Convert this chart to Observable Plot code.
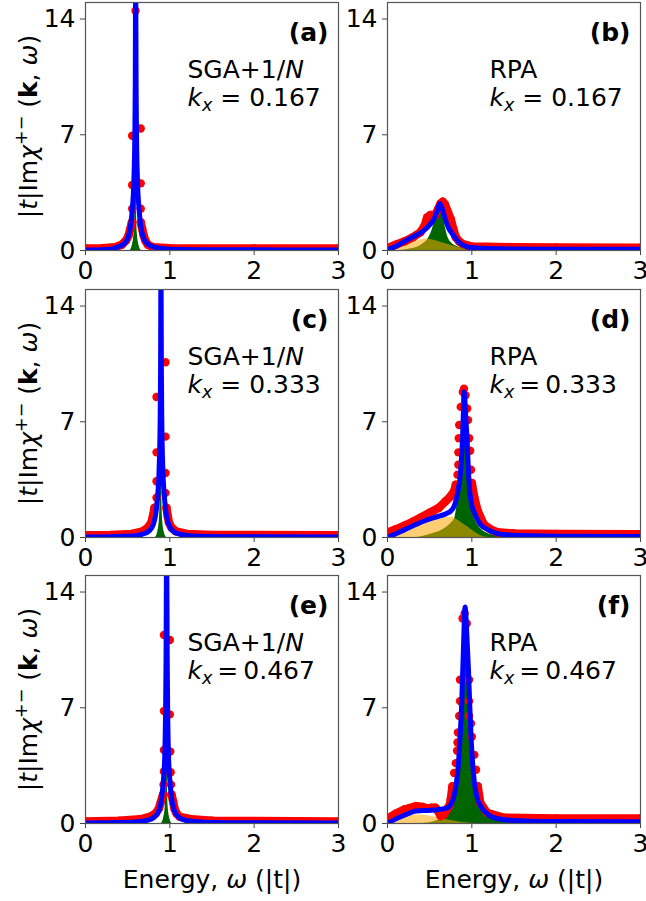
<!DOCTYPE html>
<html><head><meta charset="utf-8">
<script src="https://cdn.jsdelivr.net/npm/d3@7"></script>
<script src="https://cdn.jsdelivr.net/npm/@observablehq/plot@0.6"></script>
<style>
body{margin:0;background:#fff;}
#fig{position:relative;width:646px;height:901px;background:#fff;font-family:"DejaVu Sans";overflow:hidden;}
.cell{position:absolute;}
.cell svg{overflow:visible;}
g[aria-label="x-axis tick"], g[aria-label="y-axis tick"]{stroke:#444;}
</style></head><body><div id="fig"></div>
<script>
// ---------- data (omega, |t| Im chi) ----------
const xTicks = [0, 1, 2, 3];
const yTicks = [0, 7, 14];
const panelLabels = ["(a)", "(b)", "(c)", "(d)", "(e)", "(f)"];
const methods = ["SGA+1/N", "RPA", "SGA+1/N", "RPA", "SGA+1/N", "RPA"];
const kxValues = ["0.167", "0.167", "0.333", "0.333", "0.467", "0.467"];

// (a) SGA+1/N, kx = 0.167
const aBlue = [[0,0.03],[0.2,0.05],[0.3,0.08],[0.375,0.2],[0.455,0.4],[0.505,0.8],[0.535,1.5],[0.555,2.5],[0.572,4],[0.585,7],[0.59,10],[0.595,17],[0.6,10],[0.605,7],[0.618,4],[0.635,2.5],[0.655,1.5],[0.685,0.8],[0.735,0.4],[0.815,0.2],[1.0,0.08],[1.5,0.05],[3,0.03]];
const aGreen = [[0.53,0],[0.555,0.3],[0.575,1],[0.585,2.5],[0.59,5],[0.595,10],[0.6,5],[0.605,2.5],[0.615,1],[0.635,0.3],[0.66,0]];
const aRedL = [[0,0.12],[0.2,0.14],[0.35,0.2],[0.43,0.35],[0.48,0.6],[0.51,0.9],[0.53,1.3],[0.55,1.71]];
const aRedR = [[0.655,1.71],[0.672,1.3],[0.69,0.9],[0.71,0.6],[0.74,0.35],[0.8,0.2],[1.0,0.14],[2,0.12],[3,0.12]];
const aRedPeak = [[0.553,2.53],[0.553,3.96],[0.553,6.94],[0.593,14.5],[0.655,7.38],[0.655,4.06],[0.655,2.53]];

// (b) RPA, kx = 0.167
const bBlue = [[0,0.04],[0.1,0.25],[0.24,0.66],[0.35,0.95],[0.43,1.2],[0.5,1.55],[0.55,1.9],[0.59,2.4],[0.62,2.85],[0.65,2.5],[0.69,1.8],[0.73,1.3],[0.77,1.0],[0.82,0.65],[0.87,0.4],[0.95,0.22],[1.03,0.16],[1.3,0.1],[2,0.08],[3,0.07]];
const bGreen = [[0.15,0],[0.25,0.08],[0.35,0.2],[0.42,0.4],[0.48,0.7],[0.52,1.1],[0.55,1.6],[0.58,2.2],[0.61,2.65],[0.63,2.6],[0.66,2.0],[0.69,1.3],[0.72,0.75],[0.76,0.45],[0.82,0.25],[0.9,0.1],[1.0,0.03],[1.1,0]];
const bOrange = [[0,0],[0.1,0.12],[0.2,0.3],[0.3,0.5],[0.4,0.65],[0.48,0.7],[0.55,0.62],[0.65,0.47],[0.75,0.32],[0.83,0.2],[0.9,0.1],[1.0,0.04],[1.1,0]];
const bRed = [[0,0.15],[0.1,0.35],[0.2,0.55],[0.3,0.8],[0.39,1.1],[0.44,1.5],[0.47,2.0],[0.51,2.15],[0.56,2.1],[0.6,2.5],[0.63,2.85],[0.655,2.95],[0.68,2.8],[0.71,2.4],[0.75,1.9],[0.78,1.3],[0.81,0.8],[0.85,0.55],[0.89,0.4],[0.95,0.3],[1.0,0.25],[1.5,0.2],[2,0.18],[3,0.17]];

// (c) SGA+1/N, kx = 0.333
const cBlue = [[0,0.03],[0.3,0.05],[0.6,0.1],[0.675,0.2],[0.755,0.4],[0.805,0.8],[0.835,1.5],[0.855,2.5],[0.872,4],[0.885,7],[0.89,10],[0.895,17],[0.9,10],[0.905,7],[0.918,4],[0.935,2.5],[0.955,1.5],[0.985,0.8],[1.035,0.4],[1.115,0.2],[1.3,0.08],[2,0.04],[3,0.03]];
const cGreen = [[0.83,0],[0.855,0.3],[0.875,1],[0.885,2.5],[0.89,5],[0.895,10],[0.9,5],[0.905,2.5],[0.915,1],[0.935,0.3],[0.96,0]];
const cRedL = [[0,0.14],[0.3,0.16],[0.55,0.22],[0.68,0.38],[0.74,0.6],[0.78,0.9],[0.8,1.3],[0.818,1.8]];
const cRedR = [[0.96,1.8],[0.975,1.3],[0.99,0.9],[1.02,0.6],[1.07,0.38],[1.2,0.22],[1.5,0.16],[3,0.14]];
const cRedPeak = [[0.842,2.4],[0.842,3.4],[0.842,5.15],[0.842,8.5],[0.949,10.6],[0.949,6.1],[0.949,3.9],[0.949,2.7]];

// (d) RPA, kx = 0.333
const dBlue = [[0,0],[0.1,0.23],[0.2,0.46],[0.3,0.7],[0.435,1.0],[0.55,1.2],[0.63,1.32],[0.7,1.45],[0.75,1.6],[0.79,1.9],[0.82,2.4],[0.845,3.1],[0.86,3.6],[0.875,4.6],[0.888,5.8],[0.9,7.6],[0.907,8.8],[0.915,8.5],[0.93,7.1],[0.945,5.8],[0.955,4.6],[0.967,3.3],[0.99,2.2],[1.03,1.5],[1.07,1.05],[1.1,0.8],[1.22,0.4],[1.42,0.16],[2,0.08],[3,0.06]];
const dGreen = [[0.35,0],[0.45,0.1],[0.55,0.25],[0.65,0.45],[0.72,0.7],[0.77,0.95],[0.8,1.2],[0.82,1.8],[0.85,3.0],[0.87,4.5],[0.89,7],[0.905,8.4],[0.92,7.5],[0.94,5],[0.96,3.2],[0.99,2.0],[1.03,1.2],[1.08,0.7],[1.15,0.35],[1.25,0.15],[1.4,0.05],[1.6,0]];
const dOrange = [[0,0],[0.1,0.12],[0.2,0.3],[0.3,0.5],[0.4,0.72],[0.5,0.92],[0.6,1.1],[0.7,1.22],[0.75,1.22],[0.8,1.15],[0.85,1.0],[0.9,0.82],[0.95,0.65],[1.0,0.45],[1.05,0.27],[1.1,0.12],[1.15,0.04],[1.2,0]];
const dRedL = [[0,0.3],[0.1,0.5],[0.2,0.72],[0.3,0.95],[0.39,1.2],[0.5,1.5],[0.61,1.8],[0.69,2.2],[0.75,2.5],[0.79,2.8],[0.81,3.2]];
const dRedR = [[1.0,3.3],[1.03,2.4],[1.07,1.6],[1.14,0.8],[1.22,0.5],[1.3,0.32],[1.5,0.24],[2,0.22],[3,0.2]];
const dRedPeak = [[0.83,3.8],[0.84,4.4],[0.84,5.15],[0.845,6.0],[0.85,6.8],[0.868,7.9],[0.893,8.8],[0.907,9.0],[0.925,8.6],[0.945,7.8],[0.955,7.1],[0.968,6.0],[0.98,5.25],[0.99,4.1]];

// (e) SGA+1/N, kx = 0.467
const eBlue = [[0,0.03],[0.3,0.05],[0.6,0.09],[0.74,0.2],[0.82,0.4],[0.872,0.8],[0.902,1.5],[0.922,2.5],[0.939,4],[0.95,7],[0.955,10],[0.962,17],[0.969,10],[0.974,7],[0.985,4],[1.002,2.5],[1.022,1.5],[1.052,0.8],[1.102,0.4],[1.18,0.2],[1.4,0.08],[2,0.04],[3,0.03]];
const eGreen = [[0.9,0],[0.925,0.3],[0.945,1],[0.952,2.5],[0.957,5],[0.962,11],[0.967,5],[0.972,2.5],[0.98,1],[1.0,0.3],[1.025,0]];
const eRedL = [[0,0.13],[0.4,0.17],[0.65,0.26],[0.76,0.4],[0.83,0.6],[0.87,0.9],[0.893,1.3],[0.92,1.75]];
const eRedR = [[1.02,1.75],[1.04,1.3],[1.055,0.9],[1.08,0.6],[1.12,0.4],[1.25,0.26],[1.5,0.17],[3,0.13]];
const eRedPeak = [[0.925,2.35],[0.93,3.15],[0.93,4.45],[0.93,6.8],[0.93,11.4],[1.0,11.1],[1.0,6.6],[1.005,4.35],[1.01,3.1],[1.015,2.35]];

// (f) RPA, kx = 0.467
const fBlue = [[0,0],[0.1,0.28],[0.2,0.5],[0.34,0.75],[0.51,0.8],[0.6,0.85],[0.71,0.95],[0.76,1.25],[0.79,1.7],[0.815,2.4],[0.835,3.25],[0.86,5.2],[0.88,7.3],[0.9,10.5],[0.92,13.1],[0.94,11.5],[0.96,9.3],[0.975,7.2],[0.99,5.3],[1.01,3.6],[1.03,2.5],[1.06,1.6],[1.1,1.1],[1.16,0.7],[1.22,0.45],[1.3,0.3],[1.46,0.2],[2,0.12],[3,0.1]];
const fGreen = [[0.4,0],[0.5,0.05],[0.6,0.2],[0.68,0.4],[0.74,0.75],[0.78,1.3],[0.81,2.2],[0.84,3.6],[0.87,6.5],[0.895,10.5],[0.918,12.6],[0.94,11],[0.96,8.3],[0.98,5.8],[1.0,4.0],[1.03,2.4],[1.06,1.5],[1.1,0.95],[1.16,0.55],[1.25,0.28],[1.4,0.1],[1.6,0.03],[1.8,0]];
const fOrange = [[0,0],[0.1,0.25],[0.2,0.42],[0.3,0.52],[0.4,0.52],[0.5,0.45],[0.6,0.34],[0.7,0.22],[0.8,0.13],[0.9,0.06],[1.0,0.02],[1.1,0]];
const fRedL = [[0,0.3],[0.1,0.6],[0.2,0.85],[0.34,1.05],[0.42,1.0],[0.47,0.9],[0.52,0.95],[0.57,0.95],[0.6,0.75],[0.63,0.45],[0.67,0.55],[0.71,0.9],[0.74,1.15],[0.75,1.45],[0.77,2.25]];
const fRedR = [[1.07,2.25],[1.1,1.25],[1.18,0.65],[1.38,0.35],[2,0.3],[3,0.3]];
const fRedPeak = [[0.79,3.05],[0.81,3.65],[0.825,4.4],[0.83,4.9],[0.835,5.5],[0.85,6.5],[0.86,7.4],[0.86,8.7],[0.89,12.4],[0.915,12.7],[0.94,12.1],[0.967,8.7],[0.967,7.4],[0.967,6.5],[0.99,6.05],[1.0,5.25],[1.03,4.15],[1.05,3.25]];

// ---------- panels ----------
const panels = [
  {blue:aBlue, green:aGreen, orange:[], redLines:[aRedL,aRedR], redDots:aRedPeak},
  {blue:bBlue, green:bGreen, orange:bOrange, redLines:[bRed], redDots:[]},
  {blue:cBlue, green:cGreen, orange:[], redLines:[cRedL,cRedR], redDots:cRedPeak},
  {blue:dBlue, green:dGreen, orange:dOrange, redLines:[dRedL,dRedR], redDots:dRedPeak},
  {blue:eBlue, green:eGreen, orange:[], redLines:[eRedL,eRedR], redDots:eRedPeak},
  {blue:fBlue, green:fGreen, orange:fOrange, redLines:[fRedL,fRedR], redDots:fRedPeak}
];

const FS = 25;
const X = d => d[0], Y = d => d[1];
const fig = document.getElementById("fig");

function setRich(el, parts) {
  while (el.firstChild) el.removeChild(el.firstChild);
  for (const p of parts) {
    const ts = document.createElementNS("http://www.w3.org/2000/svg", "tspan");
    ts.textContent = p.t;
    if (p.i) ts.setAttribute("font-style", "italic");
    if (p.b) ts.setAttribute("font-weight", "bold");
    if (p.s) ts.setAttribute("font-size", p.s);
    if (p.dy) ts.setAttribute("dy", p.dy);
    el.appendChild(ts);
  }
}

panels.forEach((p, i) => {
  const col = i % 2, row = Math.floor(i / 2);
  const left = col === 0, bottom = row === 2;
  const width = left ? 340 : 306;
  const mL = left ? 85 : 47, mR = left ? 2 : 6;
  const mT = 2, mB = bottom ? 78 : 37;
  const height = mT + 248 + mB;
  const top = [0, 287, 573][row];
  const sep = i >= 3 ? "\u2009=\u2009" : " = ";
  const redAll = [...p.redLines.flat(), ...p.redDots];
  const marks = [
    Plot.areaY(p.green, {x: X, y: Y, fill: "#006400", curve: "monotone-x", clip: true}),
    Plot.areaY(p.orange, {x: X, y: Y, fill: "#ffa500", fillOpacity: 0.55, curve: "monotone-x", clip: true}),
    ...p.redLines.map(l => Plot.line(l, {x: X, y: Y, stroke: "red", strokeWidth: 8.4, strokeLinecap: "round", strokeLinejoin: "round", clip: true})),
    Plot.dot(redAll, {x: X, y: Y, r: 4.2, fill: "red", clip: true}),
    Plot.line(p.blue, {x: X, y: Y, stroke: "blue", strokeWidth: 5, curve: "monotone-x", strokeLinejoin: "round", clip: true}),
    Plot.frame({stroke: "#555", strokeWidth: 1.2}),
    Plot.text([panelLabels[i]], {frameAnchor: "top-right", dx: -10, dy: 38, lineAnchor: "bottom", textAnchor: "end", fontWeight: "bold", fontSize: FS}),
    Plot.text([methods[i]], {frameAnchor: "top-left", dx: 102, dy: 75.5, lineAnchor: "bottom", textAnchor: "start", fontSize: FS}),
    Plot.text(["k_x" + sep + kxValues[i]], {frameAnchor: "top-left", dx: 102, dy: 103.5, lineAnchor: "bottom", textAnchor: "start", fontSize: FS})
  ];
  if (left) marks.push(Plot.text(["YLABEL"], {frameAnchor: "left", dx: -49, rotate: -90, lineAnchor: "bottom", textAnchor: "middle", fontSize: FS}));
  if (bottom) marks.push(Plot.text(["XLABEL"], {frameAnchor: "bottom", dy: 64, lineAnchor: "bottom", textAnchor: "middle", fontSize: FS}));

  const svg = Plot.plot({
    width, height,
    marginLeft: mL, marginRight: mR, marginTop: mT, marginBottom: mB,
    style: {fontFamily: "DejaVu Sans", fontSize: FS + "px", background: "transparent", color: "black", overflow: "visible"},
    x: {domain: [0, 3], ticks: xTicks, tickFormat: d => String(d), tickSize: 5, tickPadding: 6, label: null},
    y: {domain: [0, 15], ticks: yTicks, tickFormat: d => String(d), tickSize: 5, tickPadding: 5, label: null},
    marks
  });

  d3.select(svg).selectAll("text").each(function() {
    const t = this.textContent;
    if (t === "SGA+1/N") setRich(this, [{t: "SGA+1/"}, {t: "N", i: 1}]);
    else if (t.startsWith("k_x")) setRich(this, [{t: "k", i: 1}, {t: "x", i: 1, s: "17.5px", dy: 5}, {t: t.slice(3), dy: -5}]);
    else if (t === "YLABEL") setRich(this, [{t: "|"}, {t: "t", i: 1}, {t: "|Im"}, {t: "χ", i: 1}, {t: "+−", s: "17.5px", dy: -10}, {t: " (", dy: 10}, {t: "k", b: 1}, {t: ", "}, {t: "ω", i: 1}, {t: ")"}]);
    else if (t === "XLABEL") setRich(this, [{t: "Energy, "}, {t: "ω", i: 1}, {t: " (|t|)"}]);
  });

  const div = document.createElement("div");
  div.className = "cell";
  div.style.left = (left ? 0 : 340) + "px";
  div.style.top = top + "px";
  div.style.width = width + "px";
  div.style.height = height + "px";
  svg.style.maxWidth = "none";
  div.appendChild(svg);
  fig.appendChild(div);
});
</script></body></html>
